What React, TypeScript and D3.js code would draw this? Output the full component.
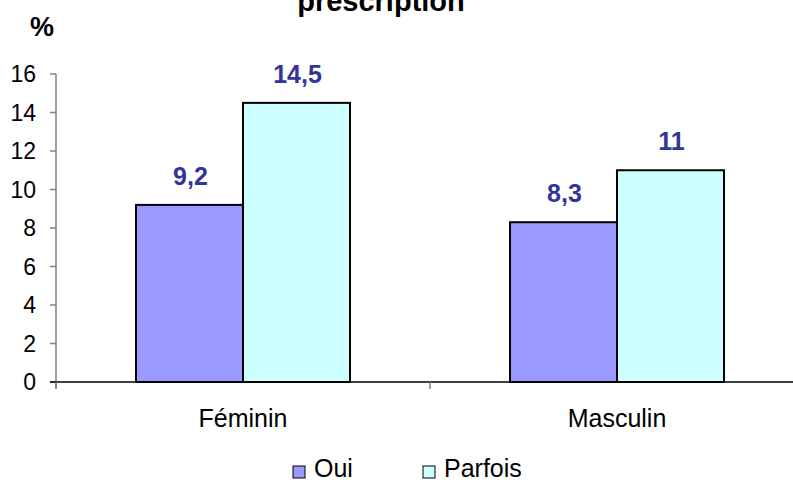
import React from "react";
import * as d3 from "d3";

const categories = ["Féminin", "Masculin"];
const seriesNames = ["Oui", "Parfois"];
const ouiValues = [9.2, 8.3];
const parfoisValues = [14.5, 11];
const valueLabels = [["9,2", "14,5"], ["8,3", "11"]];
const yTicks = [0, 2, 4, 6, 8, 10, 12, 14, 16];
const colors = ["#9999FF", "#CCFFFF"];

export default function App() {
  const W = 793, H = 482;
  const left = 56, right = 804, top = 74, bottom = 382;
  const y = d3.scaleLinear().domain([0, 16]).range([bottom, top]);
  const x0 = d3.scaleBand().domain(categories).range([left, right]).paddingInner(0).paddingOuter(0);
  const bw = 107;
  const series = [ouiValues, parfoisValues];
  const font = "'Liberation Sans', Arial, sans-serif";
  return (
    <svg width={W} height={H} style={{ position: "absolute", left: 0, top: 0 }} fontFamily={font}>
      <rect width={W} height={H} fill="#fff" />
      <text x={381} y={11} textAnchor="middle" fontSize={29} fontWeight="bold">prescription</text>
      <text x={42} y={36} textAnchor="middle" fontSize={27} fontWeight="bold">%</text>
      {/* y axis */}
      <line x1={left} x2={left} y1={top} y2={bottom + 7} stroke="#808080" strokeWidth={1.5} />
      {yTicks.map((t) => (
        <g key={t}>
          <line x1={left - 6} x2={left} y1={y(t)} y2={y(t)} stroke="#808080" strokeWidth={1.5} />
          <text x={36} y={y(t) + 8} textAnchor="end" fontSize={23}>{t}</text>
        </g>
      ))}
      {/* bars */}
      {categories.map((c, i) => {
        const cx = x0(c)! + x0.bandwidth() / 2;
        return (
          <g key={c}>
            {series.map((s, j) => {
              const bx = cx - bw + j * bw;
              return (
                <g key={j}>
                  <rect x={bx} y={y(s[i])} width={bw} height={bottom - y(s[i])} fill={colors[j]} stroke="#000" strokeWidth={2} />
                  <text x={bx + bw / 2 + 1} y={y(s[i]) - 20} textAnchor="middle" fontSize={25} fontWeight="bold" fill="#333399">{valueLabels[i][j]}</text>
                </g>
              );
            })}
            <text x={cx} y={427} textAnchor="middle" fontSize={25}>{c}</text>
          </g>
        );
      })}
      {/* x axis */}
      <line x1={left - 6} x2={W} y1={bottom} y2={bottom} stroke="#000" strokeWidth={1.5} />
      {[0, 1, 2].map((k) => (
        <line key={k} x1={left + k * x0.bandwidth()} x2={left + k * x0.bandwidth()} y1={bottom} y2={bottom + 7} stroke="#808080" strokeWidth={1.5} />
      ))}
      {/* legend */}
      {seriesNames.map((n, j) => {
        const lx = [293, 423][j];
        return (
          <g key={n}>
            <rect x={lx} y={466} width={12} height={12} fill={colors[j]} stroke="#000" strokeWidth={1} />
            <text x={lx + 21} y={477} fontSize={25}>{n}</text>
          </g>
        );
      })}
    </svg>
  );
}
